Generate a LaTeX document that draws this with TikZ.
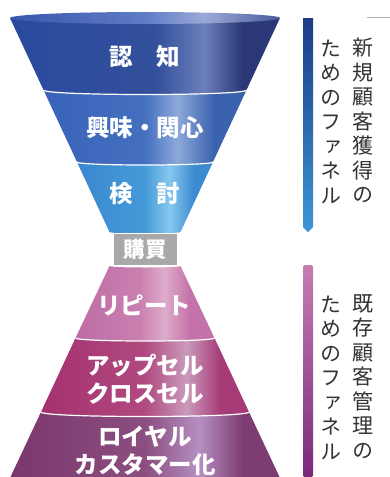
\documentclass[tikz,border=0pt]{standalone}
\usepackage{fontspec}
\newfontfamily\jpfont{Noto Sans CJK JP}
\newfontfamily\jpvert[RawFeature=+vert]{Noto Sans CJK JP}

\definecolor{rimL}{HTML}{3858AE}
\definecolor{rimM}{HTML}{5F7CC5}
\definecolor{rimH}{HTML}{9AAAD6}
\definecolor{rimR}{HTML}{4A5A9C}
\definecolor{blueAL}{HTML}{2A4A9F}
\definecolor{blueAM}{HTML}{33509C}
\definecolor{blueAH}{HTML}{6B7FBA}
\definecolor{blueAR}{HTML}{2B3877}
\definecolor{blueBL}{HTML}{3863B9}
\definecolor{blueBM}{HTML}{4570C0}
\definecolor{blueBH}{HTML}{8CA9DA}
\definecolor{blueBR}{HTML}{3B62AE}
\definecolor{blueCL}{HTML}{3A88D0}
\definecolor{blueCM}{HTML}{459AD8}
\definecolor{blueCH}{HTML}{86C8EE}
\definecolor{blueCR}{HTML}{3C8BD2}
\definecolor{pinkAL}{HTML}{BE6DA5}
\definecolor{pinkAM}{HTML}{C97FB0}
\definecolor{pinkAH}{HTML}{DEACCB}
\definecolor{pinkAR}{HTML}{C473AA}
\definecolor{pinkBL}{HTML}{A5306F}
\definecolor{pinkBM}{HTML}{B04A80}
\definecolor{pinkBH}{HTML}{CA9ABB}
\definecolor{pinkBR}{HTML}{A63B78}
\definecolor{pinkCL}{HTML}{7A376D}
\definecolor{pinkCM}{HTML}{8C4E80}
\definecolor{pinkCH}{HTML}{B68FC2}
\definecolor{pinkCR}{HTML}{7C3D72}
\definecolor{buygray}{HTML}{A9A9A9}
\definecolor{txtgray}{HTML}{333333}
\definecolor{barBlueT}{HTML}{1C3C86}
\definecolor{barBlueB}{HTML}{3C96D4}
\definecolor{barPinkT}{HTML}{C77CB4}
\definecolor{barPinkB}{HTML}{7A2A7A}

\pgfdeclarehorizontalshading{rim}{100bp}{color(0bp)=(rimL); color(25bp)=(rimL); color(50bp)=(rimM); color(61bp)=(rimH); color(75bp)=(rimR); color(100bp)=(rimR)}
\pgfdeclarehorizontalshading{blueA}{100bp}{color(0bp)=(blueAL); color(25bp)=(blueAL); color(52bp)=(blueAM); color(61bp)=(blueAH); color(68bp)=(blueAR); color(75bp)=(blueAR); color(100bp)=(blueAR)}
\pgfdeclarehorizontalshading{blueB}{100bp}{color(0bp)=(blueBL); color(25bp)=(blueBL); color(50bp)=(blueBM); color(58bp)=(blueBH); color(67bp)=(blueBR); color(75bp)=(blueBR); color(100bp)=(blueBR)}
\pgfdeclarehorizontalshading{blueC}{100bp}{color(0bp)=(blueCL); color(25bp)=(blueCL); color(50bp)=(blueCM); color(59bp)=(blueCH); color(68bp)=(blueCR); color(75bp)=(blueCR); color(100bp)=(blueCR)}
\pgfdeclarehorizontalshading{pinkA}{100bp}{color(0bp)=(pinkAL); color(25bp)=(pinkAL); color(48bp)=(pinkAM); color(57bp)=(pinkAH); color(66bp)=(pinkAR); color(75bp)=(pinkAR); color(100bp)=(pinkAR)}
\pgfdeclarehorizontalshading{pinkB}{100bp}{color(0bp)=(pinkBL); color(25bp)=(pinkBL); color(50bp)=(pinkBM); color(60bp)=(pinkBH); color(68bp)=(pinkBR); color(75bp)=(pinkBR); color(100bp)=(pinkBR)}
\pgfdeclarehorizontalshading{pinkC}{100bp}{color(0bp)=(pinkCL); color(25bp)=(pinkCL); color(50bp)=(pinkCM); color(60bp)=(pinkCH); color(68bp)=(pinkCR); color(75bp)=(pinkCR); color(100bp)=(pinkCR)}

\begin{document}
\begin{tikzpicture}[x=1pt,y=-1pt]

\tikzset{sep/.style = {draw=white, line width=1.2pt}}
\tikzset{lbl/.style = {text=white, align=center, inner sep=0pt, font=\jpfont\bfseries\fontsize{23.5}{28.5}\selectfont}}
\tikzset{buybox/.style = {fill=buygray, draw=white, line width=0.8pt, minimum width=64pt, minimum height=32pt, inner sep=0pt, text=white, font=\jpfont\bfseries\fontsize{21.5}{24}\selectfont}}
\tikzset{col/.style = {text=txtgray, align=center, inner sep=0pt, font=\jpvert\fontsize{21}{24.5}\selectfont}}

\useasboundingbox (0,0) rectangle (390,477);

% upper funnel
\shade[shading=blueA] (10,18) -- (280,18) -- (246.5,90) .. controls (246.5,96) and (43.5,96) .. (43.5,90) -- cycle;
\shade[shading=rim] (145,18) ellipse [x radius=135, y radius=6];
\shade[shading=blueB] (43.5,90) .. controls (43.5,96) and (246.5,96) .. (246.5,90) -- (213,162) .. controls (213,166) and (77,166) .. (77,162) -- cycle;
\shade[shading=blueC] (77,162) .. controls (77,166) and (213,166) .. (213,162) -- (180.5,232) .. controls (180.5,234) and (109.5,234) .. (109.5,232) -- cycle;
\draw[sep] (43.5,90) .. controls (43.5,96) and (246.5,96) .. (246.5,90);
\draw[sep] (77,162) .. controls (77,166) and (213,166) .. (213,162);

% lower funnel
\shade[shading=pinkA] (109.5,266) .. controls (109.5,268) and (180.5,268) .. (180.5,266) -- (214.5,338) .. controls (214.5,342) and (75.5,342) .. (75.5,338) -- cycle;
\shade[shading=pinkB] (75.5,338) .. controls (75.5,342) and (214.5,342) .. (214.5,338) -- (249,412) .. controls (249,418) and (41,418) .. (41,412) -- cycle;
\shade[shading=pinkC] (41,412) .. controls (41,418) and (249,418) .. (249,412) -- (280,478) -- (10,478) -- cycle;
\draw[sep] (75.5,338) .. controls (75.5,342) and (214.5,342) .. (214.5,338);
\draw[sep] (41,412) .. controls (41,418) and (249,418) .. (249,412);

% labels
\node[lbl] (aware) at (145,57) {認　知};
\node[lbl] (interest) at (145,128) {興味・関心};
\node[lbl] (consider) at (145,194) {検　討};
\node[buybox] (buy) at (145,249) {購買};
\node[lbl] (repeat) at (144,305) {リピート};
\node[lbl] (upsell) at (145,379) {アップセル\\クロスセル};
\node[lbl] (loyal) at (145,451) {ロイヤル\\カスタマー化};

% bars
\shade[top color=barBlueT, bottom color=barBlueB] (303,18) -- (313,18) -- (313,227) -- (308,232) -- (303,227) -- cycle;
\shade[top color=barPinkT, bottom color=barPinkB, rounded corners=1.5pt] (303,265) rectangle (313,477);
\draw[gray!60, line width=0.8pt] (367,17) -- (390,17);

% columns
\node[col] (newA) at (363,120.5) {新\\規\\顧\\客\\獲\\得\\の};
\node[col] (newB) at (331,121.5) {た\\め\\の\\フ\\ァ\\ネ\\ル};
\node[col] (oldA) at (363,376.5) {既\\存\\顧\\客\\管\\理\\の};
\node[col] (oldB) at (331,377.5) {た\\め\\の\\フ\\ァ\\ネ\\ル};

\end{tikzpicture}
\end{document}
